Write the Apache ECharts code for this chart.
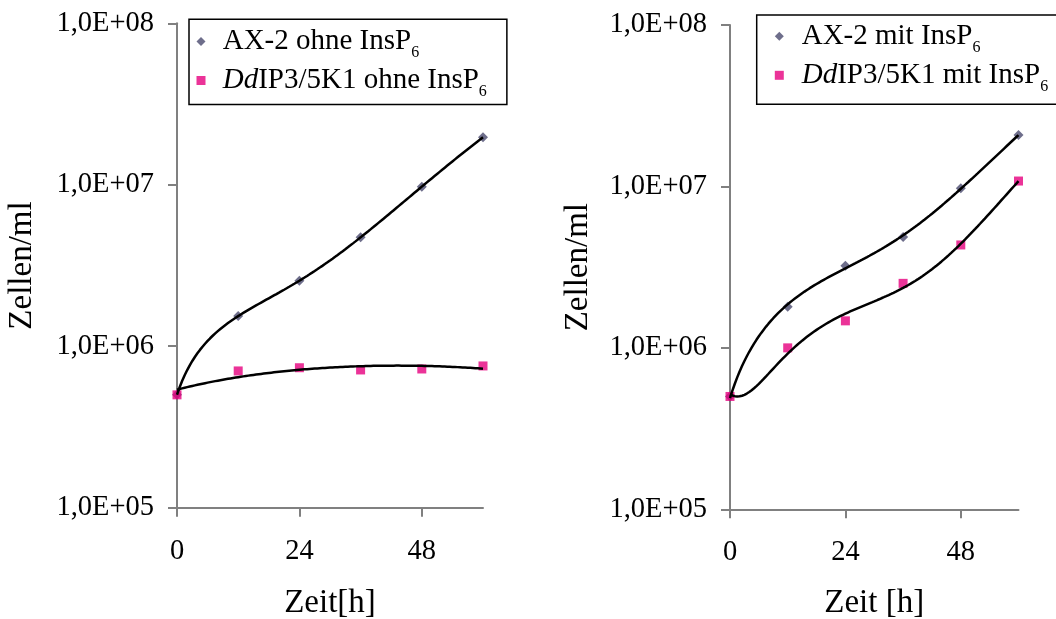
<!DOCTYPE html>
<html>
<head>
<meta charset="utf-8">
<script src="https://cdn.jsdelivr.net/npm/echarts@6/dist/echarts.min.js"></script>
<style>
html,body{margin:0;padding:0;background:#fff;}
#chart{width:1056px;height:619px;}
</style>
</head>
<body>
<div id="chart"></div>
<script>
// ---- data ----
const hours = [0, 12, 24, 36, 48, 60];
const xTickValues = [0, 24, 48];
const ax2Ohne = [5.0e5, 1.54e6, 2.54e6, 4.73e6, 9.73e6, 1.97e7];
const ddOhne  = [5.0e5, 7.03e5, 7.36e5, 7.13e5, 7.23e5, 7.55e5];
const ax2Mit  = [5.0e5, 1.80e6, 3.23e6, 4.86e6, 9.73e6, 2.08e7];
const ddMit   = [5.0e5, 1.00e6, 1.47e6, 2.51e6, 4.34e6, 1.08e7];
const namesLeft  = ['AX-2 ohne InsP6', 'DdIP3/5K1 ohne InsP6'];
const namesRight = ['AX-2 mit InsP6', 'DdIP3/5K1 mit InsP6'];
// polynomial trendline orders (least-squares fits of the data, as in the original)
const trendOrderLeft  = [4, 2];
const trendOrderRight = [4, 4];

const FONT = 'Liberation Serif';
const DIAMOND = '#4a4a6e';
const MAGENTA = '#e6007e';
const AXIS_GRAY = '#808080';

function polyfit(xs, ys, order) {
  const s = 1 / 60;
  const n = order + 1;
  const A = [], b = [];
  for (let j = 0; j < n; j++) {
    A.push(new Array(n).fill(0)); b.push(0);
  }
  xs.forEach((x0, i) => {
    const x = x0 * s;
    for (let j = 0; j < n; j++) {
      b[j] += Math.pow(x, j) * ys[i];
      for (let k = 0; k < n; k++) A[j][k] += Math.pow(x, j + k);
    }
  });
  for (let c = 0; c < n; c++) {
    let p = c;
    for (let r = c + 1; r < n; r++) if (Math.abs(A[r][c]) > Math.abs(A[p][c])) p = r;
    [A[c], A[p]] = [A[p], A[c]]; [b[c], b[p]] = [b[p], b[c]];
    for (let r = c + 1; r < n; r++) {
      const f = A[r][c] / A[c][c];
      for (let k = c; k < n; k++) A[r][k] -= f * A[c][k];
      b[r] -= f * b[c];
    }
  }
  const coef = new Array(n).fill(0);
  for (let r = n - 1; r >= 0; r--) {
    let v = b[r];
    for (let k = r + 1; k < n; k++) v -= A[r][k] * coef[k];
    coef[r] = v / A[r][r];
  }
  return t => coef.reduce((acc, c, j) => acc + c * Math.pow(t * s, j), 0);
}

function trend(ys, order) {
  const f = polyfit(hours, ys, order);
  const pts = [];
  const t0 = hours[0], t1 = hours[hours.length - 1];
  for (let t = t0; t <= t1 + 1e-9; t += 0.5) pts.push([t, f(t)]);
  return pts;
}
function pairs(ys) { return hours.map((h, i) => [h, ys[i]]); }

function legendFormatter(name) {
  const body = name.slice(0, -1);
  if (body.indexOf('Dd') === 0) {
    return '{ai|Dd}{n|' + body.slice(2) + '}{s|6}';
  }
  return '{a|' + body + '}{s|6}';
}
function legendRich(gap) {
  const base = { fontFamily: FONT, fontSize: 29, lineHeight: 39, verticalAlign: 'middle', color: '#000' };
  return {
    a: Object.assign({}, base, { padding: [0, 0, 0, gap] }),
    ai: Object.assign({}, base, { fontStyle: 'italic', padding: [0, 0, 0, gap] }),
    n: Object.assign({}, base),
    s: { fontFamily: FONT, fontSize: 16, lineHeight: 16, verticalAlign: 'top', color: '#000', padding: [23, 0, 0, 0] }
  };
}

function yLabel(v) {
  const e = Math.round(Math.log10(v));
  return '1,0E+' + String(e).padStart(2, '0');
}

function xAxisCfg(grid, name, nameGap, margin) {
  return {
    type: 'value', gridIndex: grid, min: 0, max: 60,
    name: name, nameLocation: 'middle', nameGap: nameGap,
    nameTextStyle: { fontFamily: FONT, fontSize: 33, color: '#000' },
    axisLine: { show: true, lineStyle: { color: AXIS_GRAY, width: 2 } },
    axisTick: { show: true, length: 9, inside: false, customValues: xTickValues, lineStyle: { color: AXIS_GRAY, width: 2 } },
    axisLabel: { customValues: xTickValues, margin: margin, fontFamily: FONT, fontSize: 28.5, color: '#000' },
    splitLine: { show: false }
  };
}
function yAxisCfg(grid, nameGap) {
  return {
    type: 'log', logBase: 10, gridIndex: grid, min: 1e5, max: 1e8,
    name: 'Zellen/ml', nameLocation: 'middle', nameGap: nameGap, nameRotate: 90,
    nameTextStyle: { fontFamily: FONT, fontSize: 33, color: '#000' },
    axisLine: { show: true, lineStyle: { color: AXIS_GRAY, width: 2 } },
    axisTick: { show: true, length: 9, lineStyle: { color: AXIS_GRAY, width: 2 } },
    minorTick: { show: false },
    axisLabel: { formatter: yLabel, margin: 23, fontFamily: FONT, fontSize: 28.5, color: '#000' },
    splitLine: { show: false }
  };
}

function scatter(name, ys, idx, symbol, size, color) {
  return {
    name: name, type: 'scatter', xAxisIndex: idx, yAxisIndex: idx,
    data: pairs(ys), symbol: symbol, symbolSize: size,
    itemStyle: { color: color }, z: 2
  };
}
function trendLine(ys, order, idx) {
  return {
    type: 'line', xAxisIndex: idx, yAxisIndex: idx, data: trend(ys, order),
    showSymbol: false, symbol: 'none', smooth: false, silent: true, z: 3,
    lineStyle: { color: '#000', width: 2.5 }
  };
}

const chart = echarts.init(document.getElementById('chart'), null, { renderer: 'canvas' });
chart.setOption({
  animation: false,
  backgroundColor: '#fff',
  grid: [
    { left: 177, top: 23.3, width: 306, height: 484.4, containLabel: false, outerBoundsMode: 'none' },
    { left: 730, top: 25, width: 288.5, height: 484.3, containLabel: false, outerBoundsMode: 'none' }
  ],
  xAxis: [xAxisCfg(0, 'Zeit[h]', 79, 29), xAxisCfg(1, 'Zeit [h]', 77.5, 29)],
  yAxis: [yAxisCfg(0, 138), yAxisCfg(1, 135)],
  legend: [
    {
      data: namesLeft, left: 189, top: 19.3, orient: 'vertical',
      itemWidth: 9, itemHeight: 9, itemGap: 0, selectedMode: false,
      padding: [2.7, 20, 4.5, 7.5], borderColor: '#000', borderWidth: 1.5, backgroundColor: '#fff',
      formatter: legendFormatter,
      textStyle: { fontFamily: FONT, fontSize: 29, color: '#000', rich: legendRich(12.2) }
    },
    {
      data: namesRight, left: 756.7, top: 15, orient: 'vertical',
      itemWidth: 9, itemHeight: 9, itemGap: 0, selectedMode: false,
      padding: [1.8, 10, 9.5, 18.1], borderColor: '#000', borderWidth: 1.5, backgroundColor: '#fff',
      formatter: legendFormatter,
      textStyle: { fontFamily: FONT, fontSize: 29, color: '#000', rich: legendRich(12.9) }
    }
  ],
  series: [
    scatter(namesLeft[0], ax2Ohne, 0, 'diamond', 10, DIAMOND),
    scatter(namesLeft[1], ddOhne, 0, 'rect', 9, MAGENTA),
    trendLine(ax2Ohne, trendOrderLeft[0], 0),
    trendLine(ddOhne, trendOrderLeft[1], 0),
    scatter(namesRight[0], ax2Mit, 1, 'diamond', 10, DIAMOND),
    scatter(namesRight[1], ddMit, 1, 'rect', 9, MAGENTA),
    trendLine(ax2Mit, trendOrderRight[0], 1),
    trendLine(ddMit, trendOrderRight[1], 1)
  ]
});
</script>
</body>
</html>
